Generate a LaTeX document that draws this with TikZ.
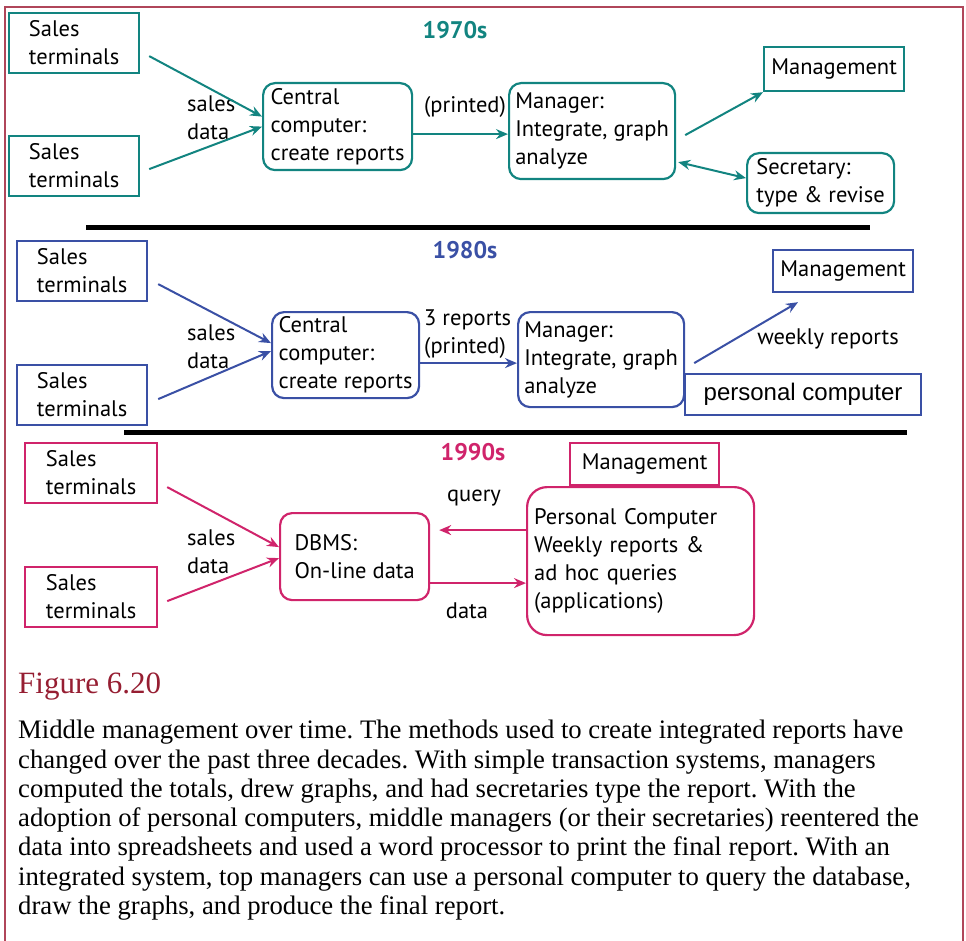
\documentclass[tikz,border=0pt]{standalone}
\usepackage{fontspec}
\setmainfont{Liberation Serif}
\newfontfamily\diafont{PT Sans}
\newfontfamily\arialfont{Liberation Sans}
\usetikzlibrary{arrows.meta}

\definecolor{cSeventies}{RGB}{18,132,128}
\definecolor{cEighties}{RGB}{58,80,165}
\definecolor{cNineties}{RGB}{208,36,107}
\definecolor{frameRed}{RGB}{176,70,90}
\definecolor{figRed}{RGB}{150,30,50}

\begin{document}
\frenchspacing
\begin{tikzpicture}[x=1pt,y=-1pt,
  dia/.style={font=\diafont\fontsize{22.5}{28}\selectfont},
  sq/.style={dia, draw, line width=2.2pt, anchor=north west, align=left, inner sep=0pt},
  rnd/.style={sq, rounded corners=12pt},
  tip/.tip={Stealth[length=12pt,width=10pt,inset=4pt]},
  flow/.style={line width=2pt, -tip},
  twoway/.style={line width=2pt, tip-tip},
  lbl/.style={dia, inner sep=0pt, align=left},
  era/.style={font=\diafont\bfseries\fontsize{24}{28}\selectfont, inner sep=0pt},
  divider/.style={line width=5pt, black}]
\useasboundingbox (0,0) rectangle (966,941);

% outer frame
\draw[frameRed, line width=1.5pt] (5,941) -- (5,7) -- (963,7) -- (963,941);

% ---------------- 1970s ----------------
\node[era, text=cSeventies] (t70) at (455,30) {1970s};
\begin{scope}[every node/.append style={draw=cSeventies}]
\node[sq, minimum width=130pt, minimum height=60pt] (st1a) at (8,12) {Sales\\terminals};
\node[sq, minimum width=130pt, minimum height=60pt] (st2a) at (8,135) {Sales\\terminals};
\node[rnd, minimum width=149pt, minimum height=87pt] (cca) at (262,82) {Central\\computer:\\create reports};
\node[rnd, minimum width=166pt, minimum height=96pt] (mga) at (508,82) {Manager:\\Integrate, graph\\analyze};
\node[sq, minimum width=140pt, minimum height=44pt] (mmta) at (763,46) {Management};
\node[rnd, minimum width=147pt, minimum height=60pt] (seca) at (746,152) {Secretary:\\type \& revise};
\end{scope}
\node[lbl, anchor=west] (sda) at (187,118) {sales\\data};
\node[lbl] (pra) at (465,107) {(printed)};
\begin{scope}[cSeventies]
\draw[flow] ([xshift=9pt,yshift=-13pt]st1a.east) -- ([yshift=10pt]cca.west);
\draw[flow] ([xshift=9pt,yshift=-3pt]st2a.east) -- (cca.west);
\draw[flow] ([yshift=-7.5pt]cca.east) -- ([yshift=-7.5pt]cca.east -| mga.west);
\draw[flow] ([xshift=9pt,yshift=-4pt]mga.east) -- (mmta.south west);
\draw[twoway] ([xshift=2pt,yshift=-31pt]mga.east) -- ([yshift=5pt]seca.west);
\end{scope}
\draw[divider] (86,228) -- (870,228);

% ---------------- 1980s ----------------
\node[era, text=cEighties] (t80) at (465,250) {1980s};
\begin{scope}[every node/.append style={draw=cEighties}]
\node[sq, minimum width=130pt, minimum height=60pt] (st1b) at (16,240) {Sales\\terminals};
\node[sq, minimum width=130pt, minimum height=60pt] (st2b) at (16,364) {Sales\\terminals};
\node[rnd, minimum width=147pt, minimum height=86pt] (ccb) at (271,311) {Central\\computer:\\create reports};
\node[rnd, minimum width=166pt, minimum height=95pt] (mgb) at (517,311) {Manager:\\Integrate, graph\\analyze};
\node[sq, minimum width=140pt, minimum height=42pt] (mmtb) at (772,249) {Management};
\node[sq, minimum width=236pt, minimum height=41pt, font=\arialfont\fontsize{24}{28}\selectfont] (pcb) at (684,373) {personal computer};
\end{scope}
\node[lbl, anchor=west] (sdb) at (187,347) {sales\\data};
\node[lbl, anchor=west] (prb) at (424,334) {3 reports\\(printed)};
\node[lbl] (wkb) at (828,339) {weekly reports};
\coordinate (wkend) at ([xshift=26pt,yshift=-9pt]mmtb.south west);
\begin{scope}[cEighties]
\draw[flow] ([xshift=10pt,yshift=-13pt]st1b.east) -- ([yshift=12pt]ccb.west);
\draw[flow] ([xshift=10pt,yshift=-4pt]st2b.east) -- ([yshift=4pt]ccb.west);
\draw[flow] ([yshift=-8pt]ccb.east) -- ([yshift=-8pt]ccb.east -| mgb.west);
\draw[flow] ([xshift=9pt,yshift=-3.5pt]mgb.east) -- (wkend);
\end{scope}
\draw[divider] (124,432.5) -- (907,432.5);

% ---------------- 1990s ----------------
\node[era, text=cNineties] (t90) at (473,452) {1990s};
\begin{scope}[every node/.append style={draw=cNineties}]
\node[sq, minimum width=132pt, minimum height=60pt] (st1c) at (24,442) {Sales\\terminals};
\node[sq, minimum width=132pt, minimum height=60pt] (st2c) at (24,566) {Sales\\terminals};
\node[rnd, minimum width=149pt, minimum height=87pt] (dbms) at (279,512) {DBMS:\\On-line data};
\node[sq, minimum width=149pt, minimum height=42pt] (mmtc) at (569,442) {Management};
\node[rnd, rounded corners=20pt, minimum height=148pt, text width=213pt, inner xsep=7pt] (pcc) at (526,486) {Personal Computer\\Weekly reports \&\\ad hoc queries\\(applications)};
\end{scope}
\node[lbl, anchor=west] (sdc) at (187,552) {sales\\data};
\node[lbl] (qry) at (474,498) {query};
\node[lbl] (dat) at (467,611) {data};
\begin{scope}[cNineties]
\draw[flow] ([xshift=9pt,yshift=-14pt]st1c.east) -- ([yshift=9.5pt]dbms.west);
\draw[flow] ([xshift=9pt,yshift=-4pt]st2c.east) -- ([yshift=-1.5pt]dbms.west);
\draw[flow] ([yshift=31pt]pcc.west) -- ([xshift=9pt,yshift=31pt]pcc.west -| dbms.east);
\draw[flow] ([yshift=-26.5pt]dbms.east) -- ([yshift=-26.5pt]dbms.east -| pcc.west);
\end{scope}

% ---------------- caption ----------------
\node[anchor=base west, inner sep=0pt, text=figRed, font=\fontsize{31}{31}\selectfont] (fig) at (18,693) {Figure 6.20};
\node[anchor=north west, inner sep=0pt, align=left, font=\fontsize{26.7}{29.3}\selectfont] (cap) at (18,720)
{Middle management over time. The methods used to create integrated reports have\\
changed over the past three decades. With simple transaction systems, managers\\
computed the totals, drew graphs, and had secretaries type the report. With the\\
adoption of personal computers, middle managers (or their secretaries) reentered the\\
data into spreadsheets and used a word processor to print the final report. With an\\
integrated system, top managers can use a personal computer to query the database,\\
draw the graphs, and produce the final report.};
\end{tikzpicture}
\end{document}
